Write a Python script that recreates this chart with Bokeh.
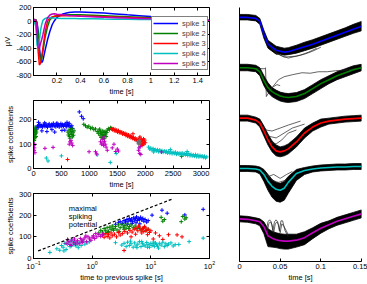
from bokeh.plotting import figure
from bokeh.models import (Range1d, FixedTicker, LinearAxis, LogAxis, Legend, LegendItem,
                          CustomJSTickFormatter, Label)
from bokeh.layouts import row, column
from bokeh.embed import file_html
from bokeh.resources import INLINE

FONT = "Liberation Sans"
FS = "7.5px"
COLORS = ["#0000ff", "#008000", "#ff0000", "#00bfbf", "#bf00bf"]
NAMES = ["spike 1", "spike 2", "spike 3", "spike 4", "spike 5"]

# ---------------- panel 1: mean spike shapes (µV) ----------------
t1 = [0, 0.02, 0.03, 0.04, 0.05, 0.06, 0.07, 0.08, 0.10, 0.12, 0.14, 0.16, 0.18, 0.20, 0.25,
      0.30, 0.35, 0.40, 0.50, 0.60, 0.70, 0.80, 0.90, 1.00, 1.10, 1.20, 1.30, 1.40, 1.50]
wave_blue = [25, 20, -20, -150, -380, -560, -610, -580, -420, -270, -150, -50, 10, 55, 105,
             125, 135, 135, 128, 118, 105, 92, 80, 66, 54, 42, 30, 20, 10]
wave_green = [25, 20, -30, -200, -450, -590, -560, -450, -230, -80, 20, 55, 70, 80, 90,
              95, 95, 93, 87, 80, 72, 64, 56, 48, 40, 32, 24, 17, 10]
wave_red = [25, 15, -150, -450, -645, -620, -520, -400, -150, 0, 45, 62, 72, 76, 80,
            80, 78, 75, 70, 64, 58, 52, 46, 40, 34, 28, 22, 16, 10]
wave_cyan = [25, -80, -350, -390, -280, -140, -50, 10, 40, 50, 50, 47, 44, 42, 40,
             38, 37, 36, 34, 31, 29, 26, 24, 22, 19, 17, 15, 12, 10]
wave_mag = [25, 5, -200, -390, -395, -330, -270, -200, -40, 50, 90, 105, 108, 102, 92,
            84, 77, 72, 63, 56, 50, 44, 39, 34, 29, 24, 19, 14, 10]
waves1 = [wave_blue, wave_green, wave_red, wave_cyan, wave_mag]
x1_ticks = [0.2, 0.4, 0.6, 0.8, 1.0, 1.2, 1.4]
y1_ticks = [-800, -600, -400, -200, 0, 200]

# ---------------- panel 2: coefficient vs time ----------------
blue2 = [(30, 150), (45, 162), (60, 170), (70, 175), (85, 168), (100, 178), (115, 182), (130, 174),
         (145, 176), (160, 171), (175, 180), (190, 177), (205, 173), (220, 183), (235, 176),
         (250, 170), (265, 179), (280, 184), (295, 175), (310, 172), (325, 181), (340, 177),
         (355, 186), (370, 174), (385, 179), (400, 172), (415, 183), (430, 176), (445, 180),
         (460, 171), (475, 178), (490, 185), (505, 175), (520, 181), (535, 173), (550, 179),
         (565, 184), (580, 176), (595, 172), (610, 182), (625, 177), (640, 186), (655, 174),
         (670, 168), (685, 176), (700, 165), (90, 190), (150, 155), (240, 152), (330, 160),
         (420, 187), (510, 157), (600, 190), (200, 188), (380, 150), (560, 158), (820, 233),
         (860, 215), (890, 205)]
green2 = [(5, 135), (10, 150), (15, 122), (20, 158), (25, 140), (30, 128), (35, 162), (40, 145),
          (45, 132), (50, 150), (12, 115), (28, 170), (42, 155), (615, 150), (625, 138), (635, 158),
          (645, 132), (655, 146), (665, 160), (675, 140), (685, 152), (695, 130), (705, 147),
          (715, 137), (725, 155), (650, 125), (690, 165), (900, 182), (930, 176), (960, 170),
          (990, 174), (1020, 165), (1050, 168), (1080, 160), (1110, 163), (1140, 152), (1160, 145),
          (1175, 158), (1190, 137), (1200, 150), (1210, 128), (1220, 146), (1230, 140), (1240, 155),
          (1250, 125), (1260, 148), (1270, 136), (1280, 152), (1290, 142), (1300, 132), (1310, 148),
          (1320, 158), (1340, 164), (1360, 160), (1380, 168), (1400, 163), (1235, 130), (1265, 122),
          (1185, 162), (2650, 50)]
red2 = [(1400, 165), (1415, 160), (1430, 163), (1445, 156), (1460, 161), (1475, 154), (1490, 158),
        (1505, 150), (1520, 156), (1535, 148), (1550, 151), (1565, 147), (1580, 150), (1595, 142),
        (1610, 146), (1625, 141), (1640, 144), (1655, 136), (1670, 141), (1685, 133), (1700, 138),
        (1715, 130), (1730, 135), (1745, 127), (1760, 131), (1775, 124), (1790, 128), (1805, 120),
        (1820, 125), (1835, 117), (1850, 121), (1865, 113), (1880, 118), (1890, 105), (1900, 125),
        (1910, 112), (1920, 98), (1930, 120), (1940, 108), (1950, 116), (1960, 102), (1970, 122),
        (1980, 110), (1990, 117), (2000, 106), (1905, 130), (1945, 95), (1975, 100), (1780, 143),
        (610, 37)]
gray2 = [(1870, 110), (1880, 104), (1890, 112), (1900, 106), (1885, 100), (1895, 116)]
cyan2 = [(2060, 88), (2080, 80), (2100, 84), (2120, 76), (2140, 82), (2160, 75), (2180, 78),
         (2200, 73), (2220, 77), (2240, 69), (2260, 76), (2280, 70), (2300, 73), (2320, 67),
         (2340, 72), (2360, 67), (2380, 70), (2400, 64), (2420, 71), (2440, 63), (2460, 68),
         (2480, 61), (2500, 66), (2520, 62), (2540, 67), (2560, 59), (2580, 64), (2600, 60),
         (2620, 63), (2640, 57), (2660, 64), (2680, 56), (2700, 61), (2720, 57), (2740, 60),
         (2760, 54), (2780, 61), (2800, 53), (2820, 58), (2840, 52), (2860, 56), (2880, 51),
         (2900, 57), (2920, 49), (2940, 55), (2960, 48), (2980, 53), (3000, 49), (3020, 51),
         (3040, 46), (3060, 50), (3080, 44), (3100, 48), (2150, 68), (2450, 78), (2750, 70),
         (230, 43), (260, 31), (500, 52), (1140, 56), (1375, 25), (1480, 62)]
mag2 = [(5, 95), (10, 75), (15, 85), (20, 100), (25, 65), (205, 83), (350, 87), (640, 100),
        (655, 110), (670, 116), (685, 105), (700, 95), (995, 69), (1110, 69), (1130, 60),
        (1200, 110), (1215, 100), (1230, 120), (1245, 105), (1255, 95), (1270, 112), (1285, 100),
        (1300, 88), (1320, 75), (1410, 85), (1440, 100), (1470, 70), (1500, 80), (1520, 72),
        (1880, 75), (1890, 85), (1900, 62), (1910, 90), (1920, 58), (2290, 68), (1260, 130)]
pts2 = [blue2, green2, red2, cyan2, mag2]
x2_ticks = [0, 500, 1000, 1500, 2000, 2500, 3000]
y2_ticks = [0, 100, 200]

# ---------------- panel 3: coefficient vs time to previous spike ----------------
blue3 = [(2.5, 158), (2.8, 165), (3.0, 170), (3.3, 162), (3.5, 175), (3.7, 168), (3.9, 180),
         (4.1, 172), (4.3, 185), (4.5, 176), (4.7, 182), (4.9, 170), (5.1, 188), (5.3, 178),
         (5.5, 184), (5.7, 192), (5.9, 175), (6.1, 186), (6.4, 180), (6.7, 190), (7.0, 178),
         (7.3, 185), (7.6, 172), (8.0, 180), (8.5, 168), (9.0, 175), (4.0, 158), (4.8, 162),
         (5.6, 165), (6.5, 160), (10.5, 200), (15.5, 223), (19, 209), (38, 201), (78, 227)]
green3 = [(1.3, 118), (1.4, 130), (1.5, 122), (1.6, 138), (1.7, 128), (1.8, 142), (1.9, 125),
          (2.0, 145), (2.1, 135), (2.2, 150), (2.35, 138), (2.5, 148), (2.65, 132), (2.8, 155),
          (3.0, 142), (3.2, 158), (3.4, 145), (3.6, 152), (3.8, 140), (4.0, 160), (4.3, 148),
          (4.6, 155), (5.0, 142), (5.4, 150), (5.8, 138), (6.3, 145), (6.8, 132), (7.5, 140),
          (8.2, 128), (9.0, 135), (1.55, 112), (1.85, 120), (2.3, 130), (2.9, 125), (3.5, 135),
          (4.2, 138), (15, 190), (16, 172), (17, 180), (33, 170), (35, 194), (38, 182), (40, 188)]
red3 = [(1.5, 108), (1.6, 98), (1.7, 115), (1.8, 102), (1.9, 110), (2.0, 95), (2.1, 118),
        (2.2, 105), (2.4, 112), (2.6, 100), (2.8, 120), (3.0, 108), (3.3, 115), (3.6, 125),
        (4.0, 118), (4.4, 130), (4.8, 122), (5.2, 135), (5.6, 140), (6.0, 128), (6.4, 145),
        (6.8, 132), (7.2, 138), (7.6, 125), (8.0, 142), (8.5, 130), (9.0, 135), (9.5, 120),
        (10, 128), (5.5, 112), (6.2, 150), (7.0, 118), (7.8, 148), (8.8, 110), (4.6, 100),
        (11, 90), (12, 118), (14, 105), (16, 88), (20, 110), (28, 109), (34, 100), (3.5, 37)]
cyan3 = [(0.19, 28), (0.25, 45), (0.28, 38), (0.3, 60), (0.32, 52), (0.34, 70), (0.36, 42),
         (0.38, 65), (0.4, 75), (0.42, 55), (0.44, 80), (0.47, 62), (0.5, 72), (0.53, 58),
         (0.56, 68), (0.6, 75), (0.65, 60), (0.7, 80), (0.75, 66), (0.82, 72), (0.9, 78),
         (0.33, 35), (0.45, 85), (0.58, 50), (2.5, 73), (3.2, 62), (3.5, 70), (3.8, 55),
         (4.0, 75), (4.3, 60), (4.6, 68), (5.0, 52), (5.3, 72), (5.6, 58), (6.0, 66), (6.4, 78),
         (6.8, 55), (7.2, 70), (7.6, 62), (8.0, 58), (8.5, 74), (9.0, 65), (9.5, 52), (10, 70),
         (10.5, 60), (11, 68), (11.5, 56), (12, 72), (12.5, 64), (13, 58), (14, 70), (15, 62),
         (16, 75), (17, 55), (18, 68), (19, 60), (20, 66), (22, 72), (24, 58), (26, 64),
         (4.5, 80), (5.8, 50), (7.0, 78), (8.8, 52), (11.2, 76), (13.5, 48), (30, 65), (45, 78),
         (78, 94)]
mag3 = [(0.36, 70), (0.38, 88), (0.4, 78), (0.42, 65), (0.45, 85), (0.48, 72), (0.5, 90),
        (0.53, 76), (0.56, 82), (0.6, 68), (0.63, 92), (0.66, 80), (0.7, 86), (0.75, 95),
        (0.8, 78), (0.85, 100), (0.9, 90), (0.95, 84), (1.0, 98), (1.05, 105), (1.1, 92),
        (1.2, 100), (1.3, 110), (1.4, 102), (1.5, 112), (0.44, 60), (0.52, 66), (0.68, 74),
        (0.78, 104), (1.15, 115)]
pts3 = [blue3, green3, red3, cyan3, mag3]
limit_isi = [0.12, 23]
limit_coef = [35, 274]
x3_ticks = [0.1, 1, 10, 100]
x3_labels = ["10\u207b\u00b9", "10\u2070", "10\u00b9", "10\u00b2"]
y3_ticks = [0, 100, 200, 300]
note_lines = ["maximal", "spiking", "potential"]

# ---------------- panel 4: stacked spike traces ----------------
t4 = [0, 0.01, 0.02, 0.025, 0.03, 0.035, 0.04, 0.045, 0.05, 0.055, 0.06, 0.07, 0.08, 0.09,
      0.1, 0.11, 0.12, 0.13, 0.14, 0.15]
mean4 = [
    [0, 0, 1, 4, 17, 27, 30, 33, 34, 35, 34.5, 32, 29.5, 27, 24, 21, 18, 15, 12, 9],
    [0, 0, 1, 4, 13, 20, 24, 26.5, 28.5, 29.5, 30, 29, 26, 21, 16, 12, 8, 5, 2, 0],
    [0, 0, 2, 5, 13, 22, 29, 33, 34, 33, 31, 24, 15, 9, 5, 3, 2, 1, 0.5, 0],
    [0, 0, 0.5, 1.5, 6, 13, 18, 21, 22, 20, 14, 5, 2, 0.5, -0.5, -1, -1.5, -1.5, -2, -2],
    [0, 0.5, 2, 3, 8, 17, 19.5, 21, 22, 22.5, 22.5, 21.5, 19, 14, 9.5, 6, 2.5, 0, -2.5, -5],
]
spread_up4 = [
    [3, 3, 3, 3, 4, 4, 4, 4, 4, 4, 4, 4, 4.5, 4.5, 4.5, 4.5, 4.5, 4.5, 5, 5],
    [3.5, 3.5, 3.5, 4, 5, 5, 4, 4, 4, 4, 4, 4, 4, 4, 4, 4, 4, 4, 4, 3.5],
    [3, 3, 3, 4, 5, 6, 6, 6, 5, 5, 5, 5, 5, 4, 4, 3, 3, 3, 3, 3],
    [3, 3, 3, 3, 5, 7, 7, 7, 7, 7, 6, 4, 3, 3, 3, 3, 3, 3, 3, 3],
    [3, 3, 3, 3, 5, 7, 7, 7, 7, 7, 7, 6, 6, 5, 5, 4, 4, 4, 4, 4],
]
spread_down4 = [
    [2.5, 2.5, 2.5, 3, 4, 4, 4, 4, 3, 3, 3, 4, 4, 4, 4, 4, 4, 4, 4, 4.5],
    [3, 3, 3, 4, 5, 5, 5, 5, 5, 5, 5, 5, 5, 5, 5, 4, 4, 4, 4, 3],
    [3, 3, 3, 4, 5, 5, 5, 5, 5, 5, 5, 5, 5, 4, 4, 3, 3, 3, 3, 3],
    [3, 3, 3, 4, 7, 9, 11, 12, 12, 12, 11, 7, 4, 3, 3, 3, 3, 3, 3, 3],
    [3, 3, 3, 4, 7, 11, 9, 8, 8, 8, 8, 7, 7, 6, 5, 4, 4, 4, 4, 4],
]
outliers4 = [
    [[(0.036, 28), (0.045, 36), (0.055, 40), (0.07, 39), (0.08, 37), (0.09, 34), (0.1, 30)],
     [(0.038, 30), (0.05, 38), (0.06, 41), (0.075, 38), (0.085, 35), (0.095, 31)]],
    [[(0.0, 0), (0.031, 1), (0.032, 0), (0.033, 29), (0.036, 25), (0.04, 20), (0.045, 15),
      (0.048, 12), (0.055, 9), (0.065, 7), (0.077, 5), (0.087, 5.5), (0.097, 4), (0.108, 4),
      (0.118, 3), (0.134, 2), (0.15, 0)],
     [(0.034, 24), (0.038, 22), (0.042, 19), (0.046, 17), (0.05, 18)]],
    [[(0.025, 4), (0.033, 12), (0.04, 13), (0.05, 10), (0.06, 7), (0.075, 3)],
     [(0.028, 8), (0.035, 18), (0.045, 20), (0.055, 15), (0.065, 10), (0.08, 6)],
     [(0.03, 12), (0.037, 24), (0.045, 26), (0.052, 22), (0.06, 15), (0.07, 12)]],
    [[(0.03, 3), (0.036, 8), (0.042, 6), (0.05, 10), (0.058, 6), (0.065, 3)],
     [(0.032, 5), (0.04, 12), (0.048, 14), (0.056, 12), (0.064, 5)]],
    [[(0.033, 12), (0.035, 3), (0.037, 1), (0.039, 3), (0.041, 12), (0.043, 3), (0.045, 1),
      (0.047, 3), (0.049, 12), (0.051, 2), (0.053, 2), (0.056, 12), (0.06, 18)],
     [(0.034, 14), (0.036, 5), (0.038, 3), (0.04, 6), (0.042, 14), (0.044, 5), (0.046, 3),
      (0.048, 6), (0.05, 14), (0.052, 5), (0.055, 8), (0.06, 16)]],
]
x4_ticks = [0, 0.05, 0.1, 0.15]


def fmt():
    return CustomJSTickFormatter(code="return String(Math.round(tick*1000)/1000);")


def style(p, outline=True):
    for ax in p.axis:
        ax.major_label_text_font = FONT
        ax.major_label_text_font_size = FS
        ax.major_label_text_color = "black"
        ax.axis_label_text_font = FONT
        ax.axis_label_text_font_size = FS
        ax.axis_label_text_font_style = "normal"
        ax.axis_label_text_color = "black"
        ax.major_tick_in = 3
        ax.major_tick_out = 0
        ax.major_tick_line_color = "black"
        ax.minor_tick_line_color = None
        ax.major_label_standoff = 2
        ax.axis_label_standoff = 1
        ax.axis_line_color = "black"
    p.grid.visible = False
    p.outline_line_color = "black" if outline else None
    p.outline_line_width = 1
    p.background_fill_color = "white"
    p.border_fill_color = "white"


def box_axes(p, xticks, yticks, log_x=False):
    # matlab-style box: inward ticks on the top and right edges, no labels
    Ax = LogAxis if log_x else LinearAxis
    kw = dict(major_label_text_font_size="1px", major_label_text_alpha=0,
              major_label_standoff=0, major_tick_in=3, major_tick_out=0,
              major_tick_line_color="black", axis_line_color=None,
              minor_tick_line_color=None)
    p.add_layout(Ax(ticker=FixedTicker(ticks=xticks), **kw), "above")
    p.add_layout(LinearAxis(ticker=FixedTicker(ticks=yticks), **kw), "right")


def fig(w, h, xr, yr, borders, xtype="linear"):
    l, r, t, b = borders
    return figure(width=w, height=h, x_range=xr, y_range=yr, x_axis_type=xtype,
                  output_backend="svg", toolbar_location=None,
                  min_border_left=l, min_border_right=r, min_border_top=t, min_border_bottom=b)


# ---- panel 1
p1 = fig(220, 98, Range1d(0, 1.5), Range1d(-800, 200), (30, 11, 7, 21))
items = []
for wv, c, n in zip(waves1, COLORS, NAMES):
    r = p1.line(t1, wv, line_color=c, line_width=1.5)
    items.append(LegendItem(label=n, renderers=[r]))
p1.xaxis.ticker = FixedTicker(ticks=x1_ticks)
p1.yaxis.ticker = FixedTicker(ticks=y1_ticks)
p1.xaxis.formatter = fmt()
p1.yaxis.formatter = fmt()
p1.xaxis.axis_label = "time [s]"
p1.yaxis.axis_label = "\u00b5V"
style(p1)
box_axes(p1, x1_ticks, y1_ticks)
leg = Legend(items=items, location=(118, 5), label_text_font=FONT, label_text_font_size=FS,
             glyph_width=25, glyph_height=10, label_height=10, spacing=0, padding=1, margin=0,
             label_standoff=4, border_line_color="black", border_line_width=1,
             background_fill_color="white", background_fill_alpha=1)
p1.add_layout(leg)

# ---- panel 2
p2 = fig(220, 93, Range1d(0, 3150), Range1d(0, 280), (30, 11, 2, 21))
for pts, c in zip(pts2, COLORS):
    xs, ys = zip(*pts)
    p2.scatter(list(xs), list(ys), marker="cross", size=4, line_color=c, line_width=1)
gx, gy = zip(*gray2)
p2.scatter(list(gx), list(gy), marker="cross", size=4, line_color="#707070", line_width=1)
p2.xaxis.ticker = FixedTicker(ticks=x2_ticks)
p2.yaxis.ticker = FixedTicker(ticks=y2_ticks)
p2.xaxis.formatter = fmt()
p2.yaxis.formatter = fmt()
p2.xaxis.axis_label = "time [s]"
p2.yaxis.axis_label = "spike coefficients"
style(p2)
box_axes(p2, x2_ticks, y2_ticks)

# ---- panel 3
p3 = fig(220, 93, Range1d(0.1, 100), Range1d(0, 300), (30, 11, 2, 22), xtype="log")
for pts, c in zip(pts3, COLORS):
    xs, ys = zip(*pts)
    p3.scatter(list(xs), list(ys), marker="cross", size=4, line_color=c, line_width=1)
p3.line(limit_isi, limit_coef, line_color="black", line_width=1.2, line_dash="3 2")
p3.xaxis.ticker = FixedTicker(ticks=x3_ticks)
p3.xaxis.major_label_overrides = {str(k): v for k, v in zip(["0.1", "1", "10", "100"], x3_labels)}
p3.yaxis.ticker = FixedTicker(ticks=y3_ticks)
p3.yaxis.formatter = fmt()
p3.xaxis.axis_label = "time to previous spike [s]"
p3.yaxis.axis_label = "spike coefficients"
style(p3)
box_axes(p3, x3_ticks, y3_ticks, log_x=True)
for k, line in enumerate(note_lines):
    p3.add_layout(Label(x=0.4, y=193, y_offset=8 - 8 * k, text=line, text_font=FONT,
                        text_font_size=FS, text_color="black", text_baseline="middle"))

# ---- panel 4
BASE0, STACK = 17, 50.75
p4 = fig(147, 284, Range1d(0, 0.15), Range1d(263, 7), (19, 6, 7, 21))
for i in range(5):
    base = BASE0 + STACK * i
    m = mean4[i]
    upper = [base + v - s for v, s in zip(m, spread_up4[i])]
    lower = [base + v + s for v, s in zip(m, spread_down4[i])]
    p4.patch(t4 + t4[::-1], upper + lower[::-1], fill_color="black", line_color="black",
             line_width=0.8)
    for tr in outliers4[i]:
        tx, ty = zip(*tr)
        p4.line(list(tx), [base + v for v in ty], line_color="#222222", line_width=0.7)
    p4.line(t4, [base + v for v in m], line_color=COLORS[i], line_width=1.6)
p4.xaxis.ticker = FixedTicker(ticks=x4_ticks)
p4.xaxis.formatter = fmt()
p4.xaxis.axis_label = "time [s]"
p4.yaxis.ticker = FixedTicker(ticks=[0])
p4.yaxis.major_label_text_alpha = 0
style(p4, outline=False)
p4.yaxis.major_label_text_font_size = "1px"
p4.yaxis.major_label_standoff = 0
p4.yaxis.major_tick_line_color = None

layout = row(column(p1, p2, p3), p4)
open("out.html", "w").write(file_html(layout, INLINE))
